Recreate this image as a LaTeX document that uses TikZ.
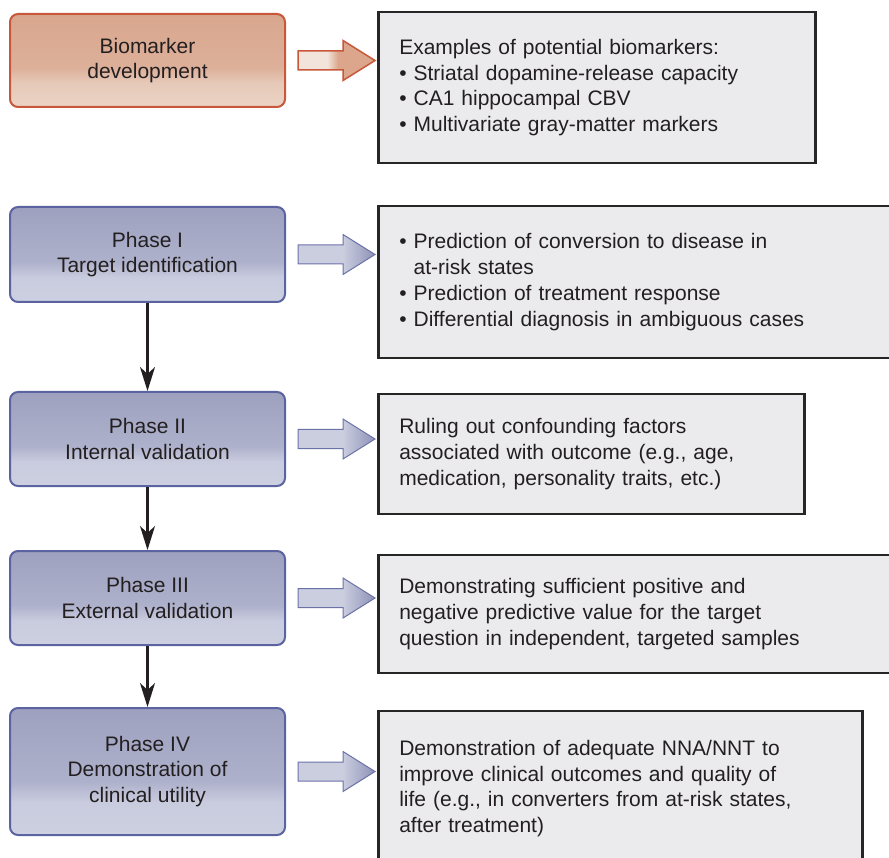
\documentclass[tikz,border=0pt]{standalone}
\usepackage{fontspec}
\setmainfont{Liberation Sans}
\usetikzlibrary{arrows.meta,calc}
\definecolor{txt}{HTML}{231F20}
\definecolor{bioB}{HTML}{EBD4C6}
\definecolor{bioM}{HTML}{E6C9B8}
\definecolor{bioN}{HTML}{DDB09A}
\definecolor{bioT}{HTML}{D8A68D}
\definecolor{bioEdge}{HTML}{C8583A}
\definecolor{bioL}{HTML}{F2E4DB}
\definecolor{bioD}{HTML}{DCA68C}
\definecolor{phB}{HTML}{CDD0E1}
\definecolor{phM}{HTML}{C9CCDE}
\definecolor{phN}{HTML}{AEB1CB}
\definecolor{phT}{HTML}{9DA1BF}
\definecolor{phEdge}{HTML}{5B64A0}
\definecolor{phL}{HTML}{CBCEDF}
\definecolor{phD}{HTML}{8D92B6}
\definecolor{phArrowEdge}{HTML}{6B72A8}
\definecolor{rfill}{HTML}{EBEBED}
\definecolor{redge}{HTML}{262626}
\pgfdeclareverticalshading{bioshade}{100bp}{color(0bp)=(bioB); color(25bp)=(bioB); color(38bp)=(bioM); color(46bp)=(bioN); color(75bp)=(bioT); color(100bp)=(bioT)}
\pgfdeclareverticalshading{phshade}{100bp}{color(0bp)=(phB); color(25bp)=(phB); color(38bp)=(phM); color(46bp)=(phN); color(75bp)=(phT); color(100bp)=(phT)}
\pgfdeclarehorizontalshading{bioarrowshade}{100bp}{color(0bp)=(bioL); color(25bp)=(bioL); color(44bp)=(bioL); color(51bp)=(bioD); color(100bp)=(bioD)}
\pgfdeclarehorizontalshading{pharrowshade}{100bp}{color(0bp)=(phL); color(25bp)=(phL); color(54bp)=(phL); color(75bp)=(phD); color(100bp)=(phD)}
\newcommand\blkarrow[3]{%
  \path[#1] let \p1=(#2.east), \p2=(#3.west) in
    (\x1+12pt,\y1+9.5pt) -- (\x2-34pt,\y1+9.5pt) -- (\x2-34pt,\y1+20pt)
    -- (\x2-2pt,\y1) -- (\x2-34pt,\y1-20pt) -- (\x2-34pt,\y1-9.5pt)
    -- (\x1+12pt,\y1-9.5pt) -- cycle;}
\begin{document}
\begin{tikzpicture}[x=1pt,y=-1pt,
  every node/.style={text=txt, font=\fontsize{21pt}{25.8pt}\selectfont},
  lbox/.style={rounded corners=8pt, line width=2pt, minimum width=275pt,
    align=center, inner sep=0pt},
  biobox/.style={lbox, draw=bioEdge, shading=bioshade},
  phbox/.style={lbox, draw=phEdge, shading=phshade},
  rbox/.style={draw=redge, fill=rfill, line width=2.6pt, anchor=west,
    align=left, inner xsep=21pt, inner ysep=0pt},
  bioarrow/.style={shade, shading=bioarrowshade, draw=bioEdge, line width=1.5pt},
  pharrow/.style={shade, shading=pharrowshade, draw=phArrowEdge, line width=1pt},
  varrow/.style={draw=txt, line width=2.2pt, -{Stealth[length=24pt,width=15pt,inset=7pt]}}
]
\useasboundingbox (0,0) rectangle (889,858);
% left boxes
\node[biobox, minimum height=93pt] (b0) at (147.5,60.5) {Biomarker\\development};
\node[phbox, minimum height=95pt] (p1) at (147.5,254.5) {Phase I\\Target identification};
\node[phbox, minimum height=94pt] (p2) at (147.5,439) {Phase II\\Internal validation};
\node[phbox, minimum height=94pt] (p3) at (147.5,598) {Phase III\\External validation};
\node[phbox, minimum height=127pt] (p4) at (147.5,771.5) {Phase IV\\Demonstration of\\clinical utility};
% right boxes
\node[rbox, minimum height=151pt, text width=395pt] (r0) at (377,87.5)
  {Examples of potential biomarkers:\\• Striatal dopamine-release capacity\\• CA1 hippocampal CBV\\• Multivariate gray-matter markers};
\node[rbox, minimum height=152pt, text width=478pt] (r1) at (377,282)
  {• Prediction of conversion to disease in\\\phantom{•}\ at-risk states\\• Prediction of treatment response\\• Differential diagnosis in ambiguous cases};
\node[rbox, minimum height=120pt, text width=384pt] (r2) at (377,454)
  {Ruling out confounding factors\\associated with outcome (e.g., age,\\medication, personality traits, etc.)};
\node[rbox, minimum height=118pt, text width=478pt] (r3) at (377,614)
  {Demonstrating sufficient positive and\\negative predictive value for the target\\question in independent, targeted samples};
\node[rbox, minimum height=155pt, text width=442pt] (r4) at (377,788.5)
  {Demonstration of adequate NNA/NNT to\\improve clinical outcomes and quality of\\life (e.g., in converters from at-risk states,\\after treatment)};
% vertical arrows
\draw[varrow] (p1.south) -- (p2.north);
\draw[varrow] (p2.south) -- (p3.north);
\draw[varrow] (p3.south) -- (p4.north);
% block arrows
\blkarrow{bioarrow}{b0}{r0}
\blkarrow{pharrow}{p1}{r1}
\blkarrow{pharrow}{p2}{r2}
\blkarrow{pharrow}{p3}{r3}
\blkarrow{pharrow}{p4}{r4}
\end{tikzpicture}
\end{document}
